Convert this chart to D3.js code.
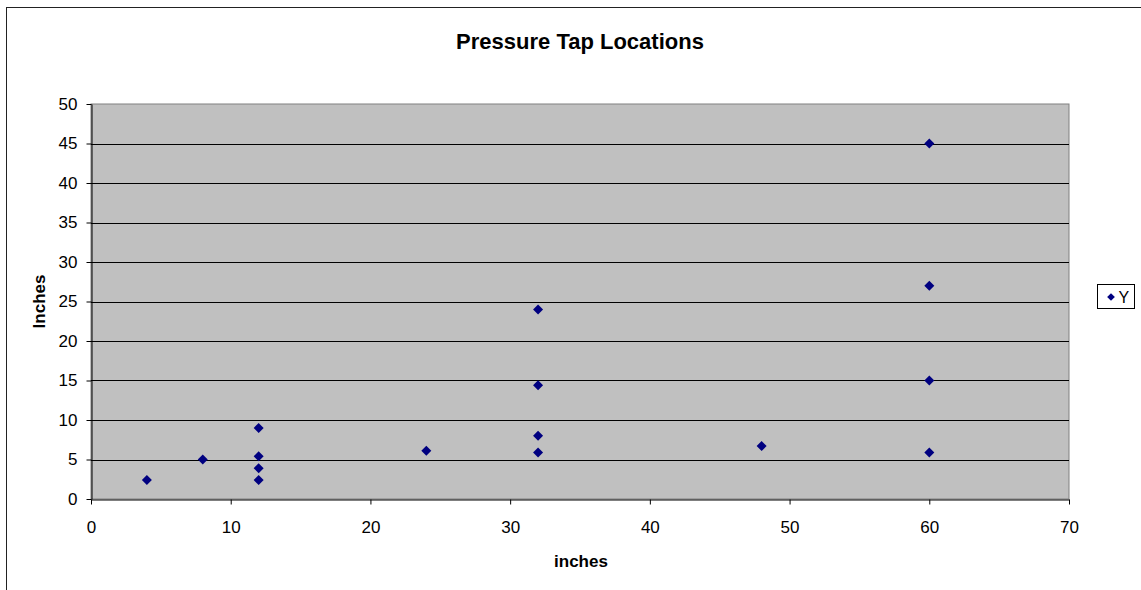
<!DOCTYPE html>
<html>
<head>
<meta charset="utf-8">
<script src="https://cdn.jsdelivr.net/npm/d3@7"></script>
<style>
  html, body { margin: 0; padding: 0; background: #fff; }
  svg { display: block; font-family: Arial, "Liberation Sans", sans-serif; }
</style>
</head>
<body>
<svg id="chart" width="1141" height="590"></svg>
<script>
// Pressure tap coordinates (inches)
const xValues = [4, 8, 12, 12, 12, 12, 24, 32, 32, 32, 32, 48, 60, 60, 60, 60];
const yValues = [2.4, 5, 9, 5.4, 3.9, 2.4, 6.1, 24, 14.4, 8, 5.9, 6.7, 45, 27, 15, 5.9];
const xTicks = [0, 10, 20, 30, 40, 50, 60, 70];
const yTicks = [0, 5, 10, 15, 20, 25, 30, 35, 40, 45, 50];
const seriesName = "Y";
const titleText = "Pressure Tap Locations";
const xLabel = "inches";
const yLabel = "Inches";

const FONT = "Arial, 'Liberation Sans', sans-serif";
const svg = d3.select("#chart");
const plot = { left: 91, right: 1069, top: 104, bottom: 499 };

const x = d3.scaleLinear().domain([0, 70]).range([plot.left, plot.right]);
const y = d3.scaleLinear().domain([0, 50]).range([plot.bottom, plot.top]);

// Outer chart frame
svg.append("rect")
  .attr("x", 6.5).attr("y", 7.5).attr("width", 1150).attr("height", 600)
  .attr("fill", "#fff").attr("stroke", "#222").attr("stroke-width", 1);

// Plot background
svg.append("rect")
  .attr("x", plot.left).attr("y", plot.top)
  .attr("width", plot.right - plot.left).attr("height", plot.bottom - plot.top)
  .attr("fill", "#c0c0c0").attr("stroke", "#808080").attr("stroke-width", 1);

// Horizontal gridlines
svg.append("g").selectAll("line")
  .data(yTicks.filter(d => d > 0 && d < 50))
  .join("line")
  .attr("x1", plot.left).attr("x2", plot.right)
  .attr("y1", d => Math.round(y(d)) + 0.5).attr("y2", d => Math.round(y(d)) + 0.5)
  .attr("stroke", "#000").attr("stroke-width", 1);

// Axes
const xAxis = svg.append("g")
  .attr("transform", `translate(0,${plot.bottom + 0.5})`)
  .call(d3.axisBottom(x).tickValues(xTicks).tickSize(5).tickSizeOuter(0).tickPadding(16));
const yAxis = svg.append("g")
  .attr("transform", `translate(${plot.left + 0.5},0)`)
  .call(d3.axisLeft(y).tickValues(yTicks).tickSize(5).tickSizeOuter(0).tickPadding(9));

[xAxis, yAxis].forEach(g => {
  g.attr("font-size", null).attr("font-family", null);
  g.select(".domain").attr("stroke", "#000");
  g.selectAll(".tick line").attr("stroke", "#000");
  g.selectAll(".tick text")
    .attr("fill", "#000")
    .style("font-size", "17px")
    .style("font-family", FONT);
});

// Data markers: small square diamonds
const diamond = d3.symbol().type(d3.symbolSquare).size(50);
svg.append("g").selectAll("path")
  .data(xValues.map((v, i) => ({ x: v, y: yValues[i] })))
  .join("path")
  .attr("d", diamond)
  .attr("transform", d => `translate(${x(d.x)},${y(d.y)}) rotate(45)`)
  .attr("fill", "#000080");

// Title and axis titles
svg.append("text")
  .attr("x", 580).attr("y", 49)
  .attr("text-anchor", "middle")
  .style("font-size", "22px").style("font-weight", "bold").style("font-family", FONT)
  .text(titleText);

svg.append("text")
  .attr("x", 581).attr("y", 567)
  .attr("text-anchor", "middle")
  .style("font-size", "17px").style("font-weight", "bold").style("font-family", FONT)
  .text(xLabel);

svg.append("text")
  .attr("transform", `translate(45,${(plot.top + plot.bottom) / 2}) rotate(-90)`)
  .attr("text-anchor", "middle")
  .style("font-size", "17px").style("font-weight", "bold").style("font-family", FONT)
  .text(yLabel);

// Legend
const legend = svg.append("g").attr("transform", "translate(1097.5,284.5)");
legend.append("rect")
  .attr("width", 37).attr("height", 24)
  .attr("fill", "#fff").attr("stroke", "#000");
legend.append("path")
  .attr("d", d3.symbol().type(d3.symbolSquare).size(30))
  .attr("transform", "translate(13.5,12.5) rotate(45)")
  .attr("fill", "#000080");
legend.append("text")
  .attr("x", 21).attr("y", 18)
  .style("font-size", "16px").style("font-family", FONT)
  .text(seriesName);
</script>
</body>
</html>
